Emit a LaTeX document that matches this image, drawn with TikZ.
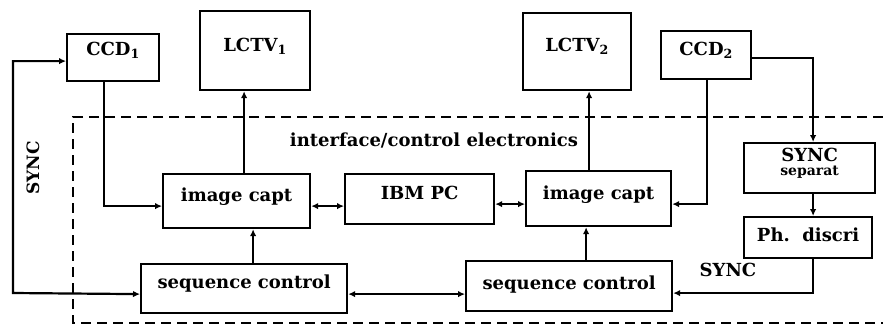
\documentclass[tikz,border=0pt]{standalone}
\usepackage{fontspec}
\setmainfont{DejaVu Serif}
\usetikzlibrary{arrows.meta}
\begin{document}
\begin{tikzpicture}[x=1pt,y=-1pt,
  every node/.style={font=\fontsize{18}{20}\selectfont\bfseries},
  blk/.style={draw, line width=2.2pt, inner sep=0pt, anchor=north west},
  wire/.style={line width=2.2pt},
  tip/.tip={Latex[length=7pt,width=6.5pt]},
  arr/.style={wire, -tip},
  arrs/.style={wire, tip-tip},
  frame/.style={line width=2.2pt, dash pattern=on 10pt off 6pt}
]
\useasboundingbox (0,0) rectangle (883,325);

% interface / control electronics frame (open to the right)
\draw[frame] (883,117) -- (73,117) -- (73,323) -- (883,323);
\node (iflabel) at (434,140) {interface/control electronics};

% blocks
\node[blk, minimum width=92pt, minimum height=47pt,
  label={[yshift=7.5pt]center:CCD\textsubscript{1}}] (ccd1) at (66,33) {};
\node[blk, minimum width=110pt, minimum height=79pt,
  label={[yshift=4pt]center:LCTV\textsubscript{1}}] (lctv1) at (199,10) {};
\node[blk, minimum width=108pt, minimum height=77pt,
  label={[yshift=5pt]center:LCTV\textsubscript{2}}] (lctv2) at (522,12) {};
\node[blk, minimum width=90pt, minimum height=48pt,
  label={[yshift=5pt]center:CCD\textsubscript{2}}] (ccd2) at (660,30) {};
\node[blk, minimum width=131pt, minimum height=50pt,
  label={[yshift=5pt,align=center]center:SYNC\\[-6pt]{\fontsize{14}{15}\selectfont separat}}] (sync) at (743,142) {};
\node[blk, minimum width=128pt, minimum height=41pt,
  label={[yshift=3pt]center:Ph.~~discri}] (phd) at (743,216) {};
\node[blk, minimum width=147pt, minimum height=54pt,
  label={[yshift=4pt]center:image capt}] (cap1) at (162,173) {};
\node[blk, minimum width=149pt, minimum height=50pt,
  label={[yshift=6pt]center:IBM PC}] (ibm) at (344,173) {};
\node[blk, minimum width=145pt, minimum height=55pt,
  label={[yshift=4pt]center:image capt}] (cap2) at (525,170) {};
\node[blk, minimum width=206pt, minimum height=49pt,
  label={[yshift=5pt]center:sequence control}] (seq1) at (140,263) {};
\node[blk, minimum width=206pt, minimum height=50pt,
  label={[yshift=2pt]center:sequence control}] (seq2) at (465,260) {};

% SYNC loop on the left
\coordinate (synccorner) at (13,293);
\draw[arrs] ([yshift=-3.5pt]ccd1.west) -| (synccorner) -- ([yshift=-5.5pt]seq1.west);
\node[rotate=90, font=\fontsize{17}{18}\selectfont\bfseries] (syncl) at (33,168) {SYNC};

% camera 1 channel
\draw[arr] ([xshift=-9pt]ccd1.south) |- ([yshift=-5pt]cap1.west);
\draw[arr] ([xshift=7.5pt]cap1.north) -- ([xshift=-11pt]lctv1.south);
\draw[arr] ([xshift=9pt]seq1.north) -- ([xshift=16.5pt]cap1.south);
\draw[arrs] ([yshift=-5pt]cap1.east) -- ([yshift=-7pt]ibm.west);
\draw[arrs] ([yshift=-5pt]ibm.east) -- ([yshift=-5.5pt]cap2.west);

% camera 2 channel
\draw[arr] ([xshift=-9.5pt]cap2.north) -- ([xshift=12pt]lctv2.south);
\draw[arr] ([xshift=1pt]ccd2.south) |- ([yshift=-5.5pt]cap2.east);
\draw[arr] ([yshift=-3pt]ccd2.east) -| ([xshift=3.5pt]sync.north);
\draw[arr] ([xshift=3.5pt]sync.south) -- ([xshift=5pt]phd.north);
\draw[arr] ([xshift=5pt]phd.south) |- ([yshift=-7pt]seq2.east);
\node (syncr) at (728,270) {SYNC};
\draw[arr] ([xshift=17pt]seq2.north) -- ([xshift=-12.5pt]cap2.south);
\draw[arrs] ([yshift=-5.5pt]seq1.east) -- ([yshift=-8pt]seq2.west);
\end{tikzpicture}
\end{document}
